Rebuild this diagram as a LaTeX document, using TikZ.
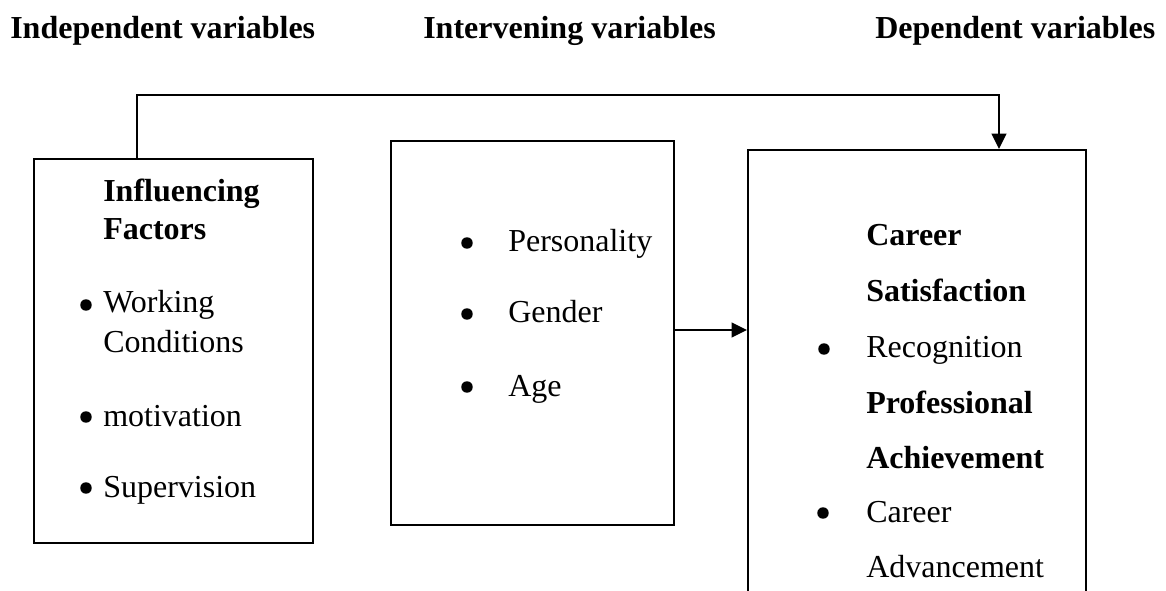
\documentclass[tikz,border=0pt]{standalone}
\usepackage{fontspec}
\setmainfont{Liberation Serif}
\usetikzlibrary{arrows.meta,fit}

\tikzset{
  box/.style={draw, line width=1.5pt, inner sep=0pt},
  conn/.style={line width=1.5pt, -{Triangle[length=11.5pt,width=11pt]}},
  txt/.style={anchor=base west, inner sep=0pt, font=\fontsize{24}{28}\selectfont},
  bold/.style={txt, font=\fontsize{24}{28}\selectfont\bfseries},
  dot/.style={circle, fill, inner sep=0pt, minimum size=8.6pt},
}

\begin{document}
\begin{tikzpicture}[x=0.75pt,y=-0.75pt]
\path[use as bounding box, clip] (0,0) rectangle (1166,591);

% column titles
\node[bold] (indep) at (10,39) {Independent variables};
\node[bold] (interv) at (423,39) {Intervening variables};
\node[bold] (depend) at (875,39) {Dependent variables};

% boxes (right one runs off the page)
\node[box, fit={(34,159) (313,543)}] (infl) {};
\node[box, fit={(391,141) (674,525)}] (inter) {};
\node[box, fit={(748,150) (1086,640)}] (dep) {};

% influencing factors
\node[bold] (inflA) at (103,202) {Influencing};
\node[bold] (inflB) at (103,240) {Factors};
\node[dot] (d1) at (86,305) {};
\node[txt] (work) at (103,313) {Working};
\node[txt] (cond) at (103,353) {Conditions};
\node[dot] (d2) at (86,417) {};
\node[txt] (motiv) at (103,426) {motivation};
\node[dot] (d3) at (86,488) {};
\node[txt] (superv) at (103,497) {Supervision};

% intervening
\node[dot] (d4) at (467,243) {};
\node[txt] (pers) at (508,252) {Personality};
\node[dot] (d5) at (467,314) {};
\node[txt] (gend) at (508,323) {Gender};
\node[dot] (d6) at (467,387) {};
\node[txt] (age) at (508,396) {Age};

% dependent
\node[bold] (carA) at (866,246) {Career};
\node[bold] (carB) at (866,301) {Satisfaction};
\node[dot] (d7) at (824,349) {};
\node[txt] (recog) at (866,358) {Recognition};
\node[bold] (profA) at (866,413) {Professional};
\node[bold] (profB) at (866,468) {Achievement};
\node[dot] (d8) at (823,513) {};
\node[txt] (adv) at (866,522) {Career};
\node[txt] (advB) at (866,577) {Advancement};

% connectors
\coordinate (tap) at (137,95);
\coordinate (bend) at (999,95);
\coordinate (lvl) at (0,330);
\draw[conn] (infl.north -| tap) -- (tap) -- (bend) -- (bend |- dep.north);
\draw[conn] (inter.east |- lvl) -- (dep.west |- lvl);
\end{tikzpicture}
\end{document}
